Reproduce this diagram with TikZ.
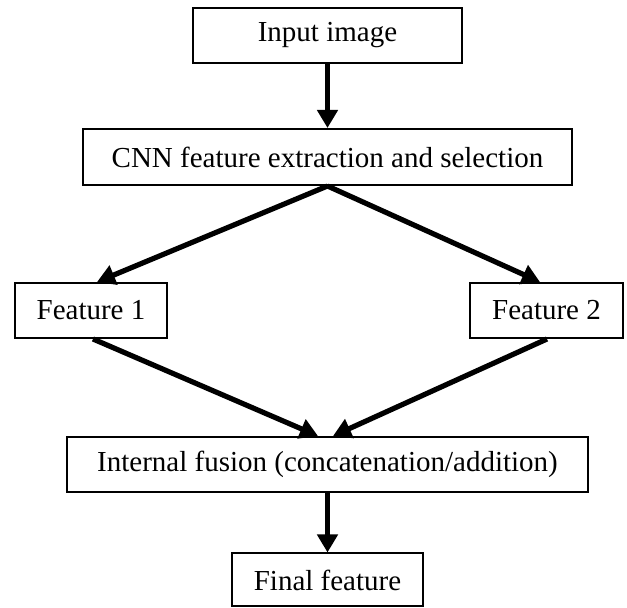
\documentclass[tikz,border=0pt]{standalone}
\usepackage{fontspec}
\setmainfont{Liberation Serif}
\usetikzlibrary{calc,arrows.meta}
\tikzset{
  stage/.style={draw, line width=1pt, minimum height=27.5pt, inner sep=0pt, font=\fontsize{14.5}{17}\selectfont},
  flow/.style={line width=2.6pt, -{Triangle[length=9pt,width=10pt]}}
}

\begin{document}
\begin{tikzpicture}[x=0.5pt, y=-0.5pt]
		%%%%% START %%%%%
		
		\useasboundingbox (0, 0) rectangle (627, 608);
		
		\node[stage, minimum width=134.5pt] (inp) at (327.5, 35.5) {Input image};
		\node[stage, minimum width=244.5pt, minimum height=28pt] (cnn) at (327.5, 157) {CNN feature extraction and selection};
		
		\node[stage, minimum width=76pt] (f1) at (91, 310.5) {Feature 1};
		\node[stage, minimum width=76.5pt] (f2) at (546.5, 310.5) {Feature 2};
		
		\node[stage, minimum width=260.5pt] (fus) at (327.5, 464.5) {Internal fusion (concatenation/addition)};
		\node[stage, minimum width=95.5pt, minimum height=26.5pt] (fin) at (327.5, 580) {Final feature};
		
		\draw[flow] (inp.south) -- (cnn.north);
		\draw[flow] (cnn.south) -- ($(f1.north)+(6, 0)$);
		\draw[flow] (cnn.south) -- ($(f2.north)+(-6.5, 0)$);
		\draw[flow] ($(f1.south)+(2, 0)$) -- ($(fus.north)+(-9.5, 0)$);
		\draw[flow] ($(f2.south)+(0.5, 0)$) -- ($(fus.north)+(5.5, 0)$);
		\draw[flow] (fus.south) -- (fin.north);
		
		%%%%% END %%%%%
	\end{tikzpicture}
\end{document}
